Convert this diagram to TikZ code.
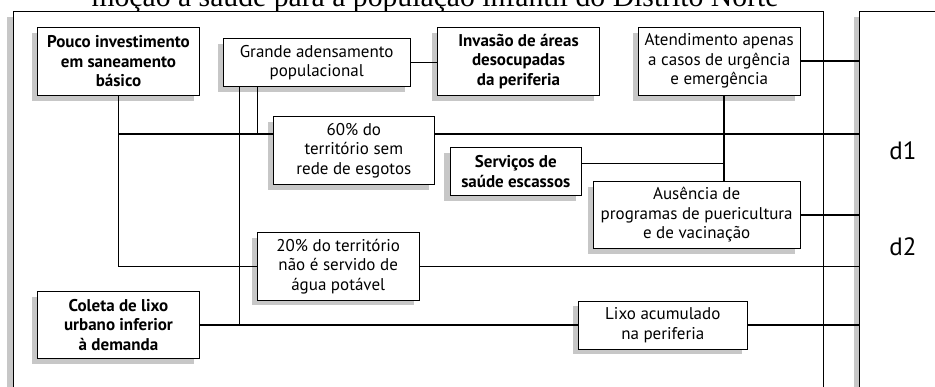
\documentclass[tikz,border=0pt]{standalone}
\usepackage{fontspec}
\setmainfont{PT Sans}
\newfontfamily\titulo{Liberation Serif}
\usetikzlibrary{shadows}
\tikzset{>=stealth}

\begin{document}
\begin{tikzpicture}[x=1pt, y=-1pt, every node/.style={font=\fontsize{17}{19.5}\selectfont},
    sombra/.style={drop shadow={shadow xshift=-5.5pt, shadow yshift=-5.5pt, fill=black!22, opacity=1}},
    caixa/.style={draw, line width=0.8pt, fill=white, align=center, inner sep=0pt, sombra},
    negrito/.style={caixa, font=\bfseries\fontsize{17}{19.5}\selectfont},
    liga/.style={line width=1.4pt}]

    \useasboundingbox (0,0) rectangle (935,387);

    % Titulo (cortado no alto)
    \node[font=\titulo\fontsize{29.7}{34}\selectfont, anchor=base] (titulo) at (435,6.5) {moção à saúde para a população infantil do Distrito Norte};

    % Quadro principal e painel da direita
    \node[draw, line width=0.8pt, fill=white, anchor=north west, minimum width=810.5pt, minimum height=400pt, sombra] (quadro) at (12.5,10.7) {};
    \node[draw, line width=0.8pt, fill=white, anchor=north west, minimum width=100pt, minimum height=400pt, sombra] (painel) at (859,10.7) {};
    \node[font=\fontsize{25}{28}\selectfont] (d1) at (903,151) {d1};
    \node[font=\fontsize{25}{28}\selectfont] (d2) at (903,246.7) {d2};

    % Causas
    \node[negrito, minimum width=161.6pt, minimum height=67.7pt] (invest) at (118.5,61.2) {Pouco investimento\\em saneamento\\básico};
    \node[caixa, minimum width=186.7pt, minimum height=48.4pt] (adens) at (316.7,62.5) {Grande adensamento\\populacional};
    \node[negrito, minimum width=161.6pt, minimum height=67.7pt] (invasao) at (518.5,61.2) {Invasão de áreas\\desocupadas\\da periferia};
    \node[caixa, minimum width=161.7pt, minimum height=67.7pt] (atend) at (719.2,61.2) {Atendimento apenas\\a casos de urgência\\e emergência};
    \node[caixa, minimum width=161pt, minimum height=67.6pt] (esgoto) at (353.8,150.5) {60\% do\\território sem\\rede de esgotos};
    \node[negrito, minimum width=131.7pt, minimum height=48pt] (servicos) at (515.8,171.7) {Serviços de\\saúde escassos};
    \node[caixa, minimum width=206.7pt, minimum height=66.6pt] (ausencia) at (696.7,215) {Ausência de\\programas de puericultura\\e de vacinação};
    \node[caixa, minimum width=161.7pt, minimum height=67.3pt] (agua) at (338.2,266.3) {20\% do território\\não é servido de\\água potável};
    \node[negrito, minimum width=161.6pt, minimum height=66.6pt] (coleta) at (118.5,325) {Coleta de lixo\\urbano inferior\\à demanda};
    \node[caixa, minimum width=169pt, minimum height=48pt] (lixo) at (662.8,325) {Lixo acumulado\\na periferia};

    % Alturas e posicoes das linhas
    \coordinate (h1) at (0,134);
    \coordinate (h2) at (0,163.3);
    \coordinate (v1) at (239.3,0);
    \coordinate (v2) at (257.7,0);
    \coordinate (v3) at (724,0);

    % Ligacoes
    \draw[liga] (invest.south) |- (agua.west);
    \draw[liga] (invest.south |- h1) -- (esgoto.west |- h1);
    \draw[liga] (esgoto.east |- h1) -- (painel.west |- h1);
    \draw[liga] (agua.east) -- (agua.east -| painel.west);
    \draw[liga] (adens.east) -- (adens.east -| invasao.west);
    \draw[liga] (atend.east) -- (atend.east -| painel.west);
    \draw[liga] (adens.south -| v1) -- (coleta.east -| v1);
    \draw[liga] (adens.south -| v2) -- (h1 -| v2);
    \draw[liga] (atend.south -| v3) -- (ausencia.north -| v3);
    \draw[liga] (servicos.east |- h2) -- (v3 |- h2);
    \draw[liga] (ausencia.east) -- (ausencia.east -| painel.west);
    \draw[liga] (coleta.east) -- (lixo.west);
    \draw[liga] (lixo.east) -- (lixo.east -| painel.west);

\end{tikzpicture}
\end{document}
